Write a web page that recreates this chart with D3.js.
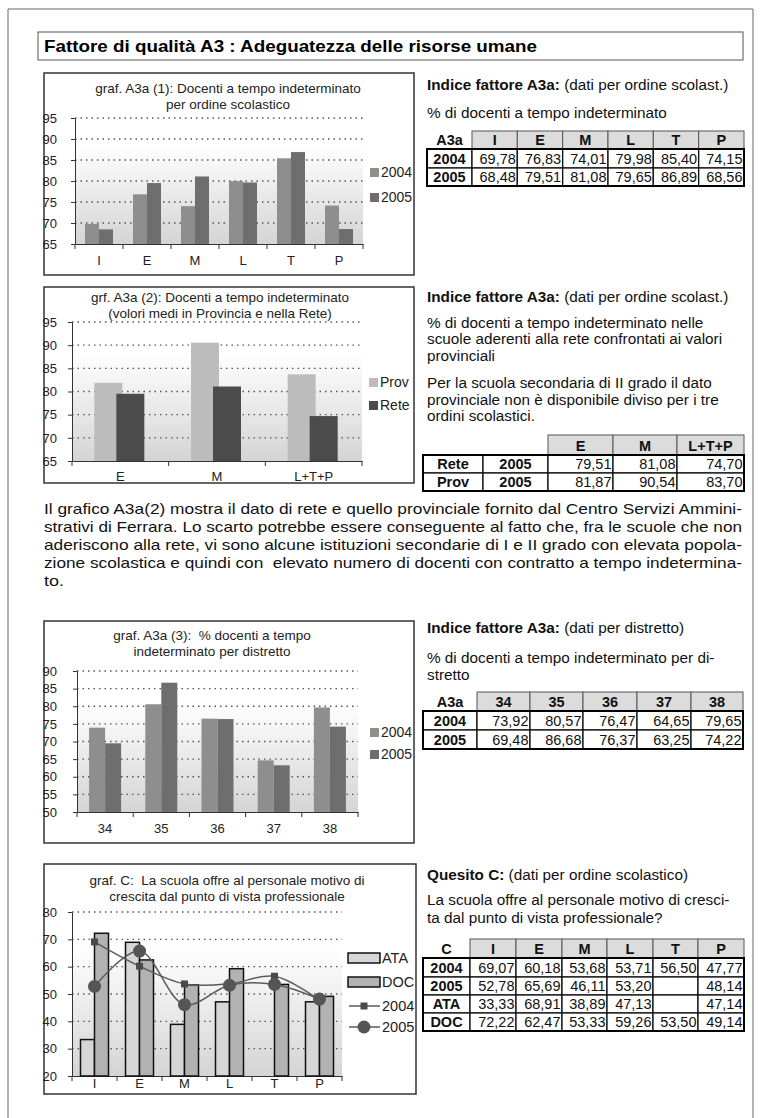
<!DOCTYPE html>
<html>
<head>
<meta charset="utf-8">
<script src="https://cdn.jsdelivr.net/npm/d3@7"></script>
<style>
body { margin: 0; background: #fff; }
svg { display: block; font-family: "Liberation Sans", Arial, sans-serif; }
</style>
</head>
<body>
<div class="container"></div>
<script>
// dati per ordine scolastico
const ordini = ["I", "E", "M", "L", "T", "P"]
const a3a2004 = [69.78, 76.83, 74.01, 79.98, 85.40, 74.15]
const a3a2005 = [68.48, 79.51, 81.08, 79.65, 86.89, 68.56]

// rete vs provincia
const gruppi = ["E", "M", "L+T+P"]
const rete2005 = [79.51, 81.08, 74.70]
const prov2005 = [81.87, 90.54, 83.70]

// per distretto
const distretti = ["34", "35", "36", "37", "38"]
const distr2004 = [73.92, 80.57, 76.47, 64.65, 79.65]
const distr2005 = [69.48, 86.68, 76.37, 63.25, 74.22]

// quesito C
const c2004 = [69.07, 60.18, 53.68, 53.71, 56.50, 47.77]
const c2005 = [52.78, 65.69, 46.11, 53.20, null, 48.14]
const c2005grafico = [52.78, 65.69, 46.11, 53.20, 53.5, 48.14] // punto T
const cATA = [33.33, 68.91, 38.89, 47.13, null, 47.14]
const cDOC = [72.22, 62.47, 53.33, 59.26, 53.50, 49.14]

const ticks65 = [65, 70, 75, 80, 85, 90, 95]
const ticks50 = [50, 55, 60, 65, 70, 75, 80, 85, 90]
const ticks20 = [20, 30, 40, 50, 60, 70, 80]

const svg = d3.select(".container").append("svg")
svg.attr("width", 762)
svg.attr("height", 1118)
svg.append("rect").attr("width", 762).attr("height", 1118).attr("fill", "#fff")

// bordo pagina
svg.append("path").attr("d", "M8,1118 V9 H753 V1118").attr("fill", "none").attr("stroke", "#666")

const grad = svg.append("defs").append("linearGradient").attr("id", "plotbg")
    .attr("x1", 0).attr("y1", 0).attr("x2", 0).attr("y2", 1)
grad.append("stop").attr("offset", "0%").attr("stop-color", "#fff")
grad.append("stop").attr("offset", "22%").attr("stop-color", "#fff")
grad.append("stop").attr("offset", "100%").attr("stop-color", "#d4d4d4")

// titolo
svg.append("rect").attr("x", 38).attr("y", 32).attr("width", 705).attr("height", 28)
    .attr("fill", "#fff").attr("stroke", "#555")
svg.append("text").attr("x", 44).attr("y", 52).attr("font-size", 17).attr("font-weight", "bold")
    .attr("textLength", 493).attr("lengthAdjust", "spacingAndGlyphs")
    .text("Fattore di qualità A3 : Adeguatezza delle risorse umane")

const fmt = v => v == null ? "" : d3.format(".2f")(v).replace(".", ",")

function chartBase(c) {
    const g = svg.append("g")
    g.append("rect").attr("x", c.box[0]).attr("y", c.box[1]).attr("width", c.box[2]).attr("height", c.box[3])
        .attr("fill", "#fff").attr("stroke", "#333").attr("stroke-width", 1.5)
    c.title.forEach((t, i) => {
        g.append("text").attr("x", c.titleX).attr("y", c.titleY + i * 16).style("white-space", "pre")
            .attr("text-anchor", "middle").attr("font-size", 13.5).attr("fill", "#222").text(t)
    })
    const x = d3.scaleBand().domain(c.cats).range([c.x0, c.x1])
    const y = d3.scaleLinear().domain(d3.extent(c.ticks)).range([c.yb, c.yt])

    g.append("rect").attr("x", c.x0).attr("y", c.yt).attr("width", c.x1 - c.x0).attr("height", c.yb - c.yt)
        .attr("fill", "url(#plotbg)")
    g.selectAll(".grid").data(c.ticks.slice(1)).enter().append("line")
        .attr("x1", c.x0).attr("x2", c.x1)
        .attr("y1", d => y(d)).attr("y2", d => y(d))
        .attr("stroke", "#555").attr("stroke-width", 1.3).attr("stroke-dasharray", "1.5,4")

    const ya = g.append("g").attr("transform", `translate(${c.x0},0)`)
        .call(d3.axisLeft(y).tickValues(c.ticks).tickSize(4).tickSizeOuter(0).tickPadding(c.x0 - 57 - 4))
    ya.attr("font-family", null).attr("font-size", 13)
    ya.selectAll("text").attr("fill", "#222")
    ya.selectAll("line, .domain").attr("stroke", "#333")

    const xa = g.append("g").attr("transform", `translate(0,${c.yb})`)
        .call(d3.axisBottom(x).tickSize(0).tickPadding(c.labelPad))
    xa.attr("font-family", null).attr("font-size", 13)
    xa.selectAll("text").attr("fill", "#222")
    xa.select(".domain").attr("stroke", "#333")
    g.selectAll(".xt").data(d3.range(c.cats.length + 1)).enter().append("line")
        .attr("x1", i => c.x0 + i * x.step()).attr("x2", i => c.x0 + i * x.step())
        .attr("y1", c.yb).attr("y2", c.yb + 5).attr("stroke", "#333")
    return { g, x, y }
}

function barChart(c) {
    const { g, x, y } = chartBase(c)
    c.series.forEach((s, k) => {
        g.selectAll(".b" + k).data(s.values).enter().append("rect")
            .attr("x", (v, i) => x(c.cats[i]) + x.bandwidth() / 2 + c.barOff[k])
            .attr("width", c.barW)
            .attr("y", v => y(v))
            .attr("height", v => c.yb - y(v))
            .attr("fill", s.color)
        g.append("rect").attr("x", c.legX).attr("y", c.legY + k * c.legDy - 9).attr("width", 9).attr("height", 9)
            .attr("fill", s.color)
        g.append("text").attr("x", c.legX + 11).attr("y", c.legY + k * c.legDy).attr("font-size", 14)
            .attr("fill", "#222").text(s.name)
    })
}

barChart({
    box: [44, 73, 370, 202], title: ["graf. A3a (1): Docenti a tempo indeterminato", "per ordine scolastico"],
    titleX: 228, titleY: 93, cats: ordini, ticks: ticks65,
    x0: 75, x1: 363, yt: 118, yb: 244, labelPad: 12,
    series: [{ name: "2004", values: a3a2004, color: "#8e8e8e" }, { name: "2005", values: a3a2005, color: "#6e6e6e" }],
    barW: 14, barOff: [-14, 0], legX: 370, legY: 177, legDy: 25
})

barChart({
    box: [44, 287, 370, 196], title: ["grf. A3a (2): Docenti a tempo indeterminato", "(volori medi in Provincia e nella Rete)"],
    titleX: 220, titleY: 302, cats: gruppi, ticks: ticks65,
    x0: 72, x1: 362, yt: 322, yb: 461, labelPad: 11,
    series: [{ name: "Prov", values: prov2005, color: "#bcbcbc" }, { name: "Rete", values: rete2005, color: "#4b4b4b" }],
    barW: 28, barOff: [-26, -4], legX: 369, legY: 387, legDy: 23
})

barChart({
    box: [44, 621, 370, 222], title: ["graf. A3a (3):  % docenti a tempo", "indeterminato per distretto"],
    titleX: 212, titleY: 640, cats: distretti, ticks: ticks50,
    x0: 77, x1: 358, yt: 671, yb: 812, labelPad: 12,
    series: [{ name: "2004", values: distr2004, color: "#8e8e8e" }, { name: "2005", values: distr2005, color: "#6e6e6e" }],
    barW: 16, barOff: [-16, 0], legX: 370, legY: 737, legDy: 22
})

// grafico C: barre ATA/DOC e linee 2004/2005
const cc = {
    box: [44, 864, 372, 230], title: ["graf. C:  La scuola offre al personale motivo di", "crescita dal punto di vista professionale"],
    titleX: 227, titleY: 885, cats: ordini, ticks: ticks20,
    x0: 72, x1: 342, yt: 912, yb: 1076, labelPad: 3
}
const base = chartBase(cc)
const gC = base.g, xC = base.x, yC = base.y
const barSeries = [{ name: "ATA", values: cATA, color: "#d6d6d6", off: -14 }, { name: "DOC", values: cDOC, color: "#b2b2b2", off: 0 }]
barSeries.forEach((s, k) => {
    gC.selectAll(".cb" + k).data(s.values.map((v, i) => ({ v, i })).filter(d => d.v != null)).enter().append("rect")
        .attr("x", d => xC(ordini[d.i]) + xC.bandwidth() / 2 + s.off)
        .attr("width", 14)
        .attr("y", d => yC(d.v))
        .attr("height", d => cc.yb - yC(d.v))
        .attr("fill", s.color).attr("stroke", "#111").attr("stroke-width", 1.5)
    gC.append("rect").attr("x", 348).attr("y", 953 + k * 24).attr("width", 32).attr("height", 10)
        .attr("fill", s.color).attr("stroke", "#111").attr("stroke-width", 1.5)
    gC.append("text").attr("x", 382).attr("y", 963 + k * 24).attr("font-size", 14.5).attr("fill", "#222").text(s.name)
})

const lineSeries = [{ name: "2004", values: c2004, marker: "square" }, { name: "2005", values: c2005grafico, marker: "circle" }]
const line = d3.line().x((v, i) => xC(ordini[i]) + xC.bandwidth() / 2).y(v => yC(v)).curve(d3.curveCatmullRom)
lineSeries.forEach((s, k) => {
    gC.append("path").datum(s.values).attr("d", line).attr("fill", "none").attr("stroke", "#5a5a5a").attr("stroke-width", 1.5)
    const pts = s.values.map((v, i) => [xC(ordini[i]) + xC.bandwidth() / 2, yC(v)])
    const ly = 1006 + k * 21
    gC.append("line").attr("x1", 349).attr("x2", 380).attr("y1", ly).attr("y2", ly).attr("stroke", "#5a5a5a").attr("stroke-width", 1.5)
    pts.push([364, ly])
    if (s.marker == "square") {
        gC.selectAll(".sq").data(pts).enter().append("rect")
            .attr("x", p => p[0] - 3.5).attr("y", p => p[1] - 3.5).attr("width", 7).attr("height", 7).attr("fill", "#4a4a4a")
    } else {
        gC.selectAll(".ci").data(pts).enter().append("circle")
            .attr("cx", p => p[0]).attr("cy", p => p[1]).attr("r", 6.5).attr("fill", "#555")
    }
    gC.append("text").attr("x", 382).attr("y", ly + 5).attr("font-size", 14.5).attr("fill", "#222").text(s.name)
})

// testi a destra
function textBlock(x, lines) {
    lines.forEach(l => {
        const t = svg.append("text").attr("x", x).attr("y", l.y).attr("font-size", 15.3).attr("fill", "#111")
        if (l.bold) t.append("tspan").attr("font-weight", "bold").text(l.bold)
        t.append("tspan").text(l.text || "")
    })
}
textBlock(427, [
    { y: 90, bold: "Indice fattore A3a:", text: " (dati per ordine scolast.)" },
    { y: 118, text: "% di docenti a tempo indeterminato" }
])
textBlock(427, [
    { y: 302, bold: "Indice fattore A3a:", text: " (dati per ordine scolast.)" },
    { y: 328, text: "% di docenti a tempo indeterminato nelle" },
    { y: 344, text: "scuole aderenti alla rete confrontati ai valori" },
    { y: 361, text: "provinciali" },
    { y: 388, text: "Per la scuola secondaria di II grado il dato" },
    { y: 405, text: "provinciale non è disponibile diviso per i tre" },
    { y: 421, text: "ordini scolastici." }
])
textBlock(427, [
    { y: 633, bold: "Indice fattore A3a:", text: " (dati per distretto)" },
    { y: 663, text: "% di docenti a tempo indeterminato per di-" },
    { y: 680, text: "stretto" }
])
textBlock(427, [
    { y: 880, bold: "Quesito C:", text: " (dati per ordine scolastico)" },
    { y: 905, text: "La scuola offre al personale motivo di cresci-" },
    { y: 923, text: "ta dal punto di vista professionale?" }
])

// tabelle
function table(t) {
    const g = svg.append("g").attr("font-size", 14.5).attr("fill", "#111")
    t.header.forEach((h, j) => {
        if (h == null) return
        const x0 = t.cols[j], x1 = t.cols[j + 1]
        if (j >= t.nLab) {
            g.append("rect").attr("x", x0).attr("y", t.rows[0]).attr("width", x1 - x0).attr("height", t.rows[1] - t.rows[0])
                .attr("fill", "#dcdcdc").attr("stroke", "#555")
        }
        g.append("text").attr("x", (x0 + x1) / 2).attr("y", t.rows[1] - 4).attr("text-anchor", "middle")
            .attr("font-weight", "bold").text(h)
    })
    t.body.forEach((r, i) => {
        const y0 = t.rows[i + 1], y1 = t.rows[i + 2]
        r.labels.concat(r.values).forEach((v, j) => {
            const x0 = t.cols[j], x1 = t.cols[j + 1]
            g.append("rect").attr("x", x0).attr("y", y0).attr("width", x1 - x0).attr("height", y1 - y0)
                .attr("fill", "#fff").attr("stroke", "#111").attr("stroke-width", 1.3)
            if (j < t.nLab) {
                g.append("text").attr("x", (x0 + x1) / 2).attr("y", y1 - 4).attr("text-anchor", "middle")
                    .attr("font-weight", "bold").text(v)
            } else {
                g.append("text").attr("x", x1 - 1.5).attr("y", y1 - 4).attr("text-anchor", "end").text(fmt(v))
            }
        })
    })
    g.append("rect").attr("x", t.cols[0]).attr("y", t.rows[1]).attr("width", t.cols[t.cols.length - 1] - t.cols[0])
        .attr("height", t.rows[t.rows.length - 1] - t.rows[1]).attr("fill", "none").attr("stroke", "#000").attr("stroke-width", 2)
}

table({
    cols: [427, 472, 517.3, 562.7, 608, 653.3, 698.7, 744], rows: [131, 149, 168, 186], nLab: 1,
    header: ["A3a"].concat(ordini),
    body: [{ labels: ["2004"], values: a3a2004 }, { labels: ["2005"], values: a3a2005 }]
})
table({
    cols: [423, 483, 548, 613, 677, 744], rows: [435, 455, 473, 491], nLab: 2,
    header: [null, null].concat(gruppi),
    body: [{ labels: ["Rete", "2005"], values: rete2005 }, { labels: ["Prov", "2005"], values: prov2005 }]
})
table({
    cols: [423, 477, 530, 583, 637, 691, 743], rows: [692, 711, 730, 749], nLab: 1,
    header: ["A3a"].concat(distretti),
    body: [{ labels: ["2004"], values: distr2004 }, { labels: ["2005"], values: distr2005 }]
})
table({
    cols: [423, 470, 516, 562, 607, 653, 698, 744], rows: [939, 958, 977, 995, 1013, 1031], nLab: 1,
    header: ["C"].concat(ordini),
    body: [
        { labels: ["2004"], values: c2004 }, { labels: ["2005"], values: c2005 },
        { labels: ["ATA"], values: cATA }, { labels: ["DOC"], values: cDOC }
    ]
})

// paragrafo (giustificato)
const para = [
    "Il grafico A3a(2) mostra il dato di rete e quello provinciale fornito dal Centro Servizi Ammini-",
    "strativi di Ferrara. Lo scarto potrebbe essere conseguente al fatto che, fra le scuole che non",
    "aderiscono alla rete, vi sono alcune istituzioni secondarie di I e II grado con elevata popola-",
    "zione scolastica e quindi con  elevato numero di docenti con contratto a tempo indetermina-",
    "to."
]
para.forEach((l, i) => {
    const t = svg.append("text").attr("x", 44).attr("y", 514 + i * 18).attr("font-size", 15).attr("fill", "#111")
        .style("white-space", "pre").text(l)
    if (i < para.length - 1) t.attr("textLength", 698).attr("lengthAdjust", "spacingAndGlyphs")
    else t.attr("textLength", 20).attr("lengthAdjust", "spacingAndGlyphs")
})
</script>
</body>
</html>
